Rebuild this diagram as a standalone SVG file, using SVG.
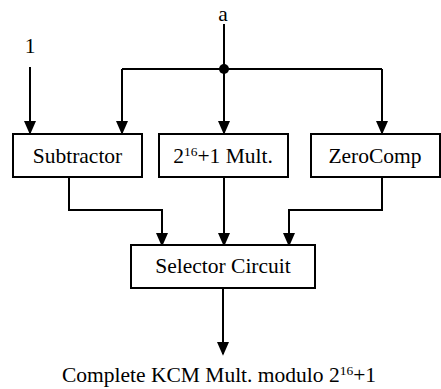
<svg xmlns="http://www.w3.org/2000/svg" width="441" height="389" viewBox="0 0 441 389">
<defs>
<marker id="ah" markerWidth="14" markerHeight="16" refX="14" refY="7" orient="auto" markerUnits="userSpaceOnUse" viewBox="0 0 16 14">
<path d="M0,0 L16,7 L0,14 Z" fill="#000"/>
</marker>
<style>
.ln{fill:none;stroke:#000;stroke-width:2;marker-end:url(#ah)}
.pl{fill:none;stroke:#000;stroke-width:2}
.bx{fill:#fff;stroke:#000;stroke-width:2}
.sup{font-size:13.5px}
</style>
</defs>
<rect width="441" height="389" fill="#fff"/>
<g id="connectors">
<path class="pl" d="M224,24 V69"/>
<path class="pl" d="M122,69 H382"/>
<circle cx="224" cy="69" r="5" fill="#000"/>
<path class="ln" d="M30,67 V133"/>
<path class="ln" d="M122,69 V133"/>
<path class="ln" d="M224,69 V133"/>
<path class="ln" d="M382,69 V133"/>
<path class="ln" d="M69,177 V210 H162 V245"/>
<path class="ln" d="M224,177 V245"/>
<path class="ln" d="M382,177 V210 H289 V245"/>
<path class="ln" d="M223,288 V354"/>
</g>
<g font-family="'Liberation Serif', 'Times New Roman', serif" font-size="21.5" fill="#000" text-anchor="middle">
<g id="in-a"><text x="223" y="21">a</text></g>
<g id="in-1"><text x="30" y="53">1</text></g>
<g id="subtractor"><rect class="bx" x="13" y="134" width="129" height="43"/><text x="77.5" y="163">Subtractor</text></g>
<g id="mult"><rect class="bx" x="159" y="134" width="129" height="43"/><text x="223" y="163">2<tspan class="sup" dy="-7">16</tspan><tspan dy="7">+1 Mult.</tspan></text></g>
<g id="zerocomp"><rect class="bx" x="311" y="134" width="129" height="43"/><text x="375" y="163">ZeroComp</text></g>
<g id="selector"><rect class="bx" x="131" y="245" width="184" height="43"/><text x="223" y="273">Selector Circuit</text></g>
<g id="output"><text x="219" y="382">Complete KCM Mult. modulo 2<tspan class="sup" dy="-7">16</tspan><tspan dy="7">+1</tspan></text></g>
</g>
</svg>
